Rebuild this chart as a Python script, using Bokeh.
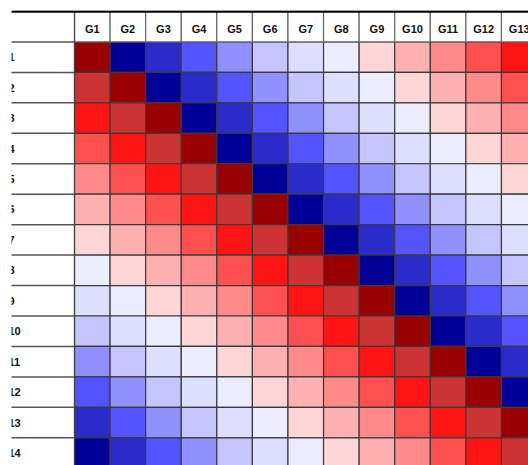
from bokeh.plotting import figure
from bokeh.models import Range1d, ColumnDataSource, LinearColorMapper
from bokeh.transform import transform
from bokeh.core.properties import value
from bokeh.embed import file_html
from bokeh.resources import INLINE

columns = ["G1", "G2", "G3", "G4", "G5", "G6", "G7", "G8", "G9", "G10", "G11", "G12", "G13"]
row_labels = ["G1", "G2", "G3", "G4", "G5", "G6", "G7", "G8", "G9", "G10", "G11", "G12", "G13", "G14"]

row_g1 = [1.0, -1.0, -0.85, -0.69, -0.54, -0.38, -0.23, -0.08, 0.08, 0.23, 0.38, 0.54, 0.69]
row_g2 = [0.85, 1.0, -1.0, -0.85, -0.69, -0.54, -0.38, -0.23, -0.08, 0.08, 0.23, 0.38, 0.54]
row_g3 = [0.69, 0.85, 1.0, -1.0, -0.85, -0.69, -0.54, -0.38, -0.23, -0.08, 0.08, 0.23, 0.38]
row_g4 = [0.54, 0.69, 0.85, 1.0, -1.0, -0.85, -0.69, -0.54, -0.38, -0.23, -0.08, 0.08, 0.23]
row_g5 = [0.38, 0.54, 0.69, 0.85, 1.0, -1.0, -0.85, -0.69, -0.54, -0.38, -0.23, -0.08, 0.08]
row_g6 = [0.23, 0.38, 0.54, 0.69, 0.85, 1.0, -1.0, -0.85, -0.69, -0.54, -0.38, -0.23, -0.08]
row_g7 = [0.08, 0.23, 0.38, 0.54, 0.69, 0.85, 1.0, -1.0, -0.85, -0.69, -0.54, -0.38, -0.23]
row_g8 = [-0.08, 0.08, 0.23, 0.38, 0.54, 0.69, 0.85, 1.0, -1.0, -0.85, -0.69, -0.54, -0.38]
row_g9 = [-0.23, -0.08, 0.08, 0.23, 0.38, 0.54, 0.69, 0.85, 1.0, -1.0, -0.85, -0.69, -0.54]
row_g10 = [-0.38, -0.23, -0.08, 0.08, 0.23, 0.38, 0.54, 0.69, 0.85, 1.0, -1.0, -0.85, -0.69]
row_g11 = [-0.54, -0.38, -0.23, -0.08, 0.08, 0.23, 0.38, 0.54, 0.69, 0.85, 1.0, -1.0, -0.85]
row_g12 = [-0.69, -0.54, -0.38, -0.23, -0.08, 0.08, 0.23, 0.38, 0.54, 0.69, 0.85, 1.0, -1.0]
row_g13 = [-0.85, -0.69, -0.54, -0.38, -0.23, -0.08, 0.08, 0.23, 0.38, 0.54, 0.69, 0.85, 1.0]
row_g14 = [-1.0, -0.85, -0.69, -0.54, -0.38, -0.23, -0.08, 0.08, 0.23, 0.38, 0.54, 0.69, 0.85]

matrix = [row_g1, row_g2, row_g3, row_g4, row_g5, row_g6, row_g7,
          row_g8, row_g9, row_g10, row_g11, row_g12, row_g13, row_g14]

palette = ["#000099", "#2b2bcc", "#5454ff", "#9090ff", "#c4c4ff", "#dedeff", "#ececff",
           "#ffd6d6", "#ffb0b0", "#ff8a8a", "#ff5050", "#ff1414", "#cc3333", "#990000"]

# cell table
xs, ys, vals = [], [], []
for i, row in enumerate(matrix):
    for j, v in enumerate(row):
        xs.append(j + 0.5)
        ys.append(i + 0.5)
        vals.append(v)
cells = ColumnDataSource(dict(x=xs, y=ys, v=vals))
mapper = LinearColorMapper(palette=palette, low=-1.08, high=1.08)

W, H = 528, 465
ml, mt = 11, 10
col_w = 35.58
row_h = 30.45
fw, fh = W - ml, H - mt
x0 = -63 / col_w
y0 = -1 - 1 / row_h

p = figure(width=W, height=H, output_backend="svg", toolbar_location=None,
           x_range=Range1d(x0, x0 + fw / col_w),
           y_range=Range1d(y0 + fh / row_h, y0),
           min_border_left=ml, min_border_top=mt, min_border_right=0, min_border_bottom=0,
           x_axis_location=None, y_axis_location=None)
p.grid.visible = False
p.outline_line_color = None
p.background_fill_color = "white"
p.border_fill_color = "white"

p.rect(x="x", y="y", width=1, height=1, source=cells,
       fill_color=transform("v", mapper), line_color="#3a3a3a", line_width=1.2)

# header
hx = [j + 0.5 for j in range(len(columns))]
hsrc = ColumnDataSource(dict(x=hx, y=[-0.5] * len(columns), t=columns))
p.rect(x="x", y="y", width=1, height=1, source=hsrc, fill_color="white",
       line_color="#666666", line_width=1.2)
p.text(x="x", y="y", text="t", source=hsrc, text_align="center", text_baseline="middle",
       text_font=value("Liberation Sans"), text_font_style="bold", text_font_size="11px",
       text_color="#111111", y_offset=2)

# row label column lines
left = x0 - 0.5
p.segment(x0=[left] * 15, y0=list(range(15)), x1=[0] * 15, y1=list(range(15)),
          line_color="#555555", line_width=1.5)
p.segment(x0=[0], y0=[-1], x1=[0], y1=[14], line_color="#444444", line_width=1.2)
p.segment(x0=[left], y0=[-1], x1=[14], y1=[-1], line_color="black", line_width=2.5)

lsrc = ColumnDataSource(dict(x=[x0 - 11.6 / col_w] * len(row_labels),
                             y=[i + 0.5 for i in range(len(row_labels))], t=row_labels))
p.text(x="x", y="y", text="t", source=lsrc, text_align="left", text_baseline="middle",
       text_font=value("Liberation Sans"), text_font_style="bold", text_font_size="11px",
       text_color="#111111")

open("out.html", "w").write(file_html(p, INLINE))
